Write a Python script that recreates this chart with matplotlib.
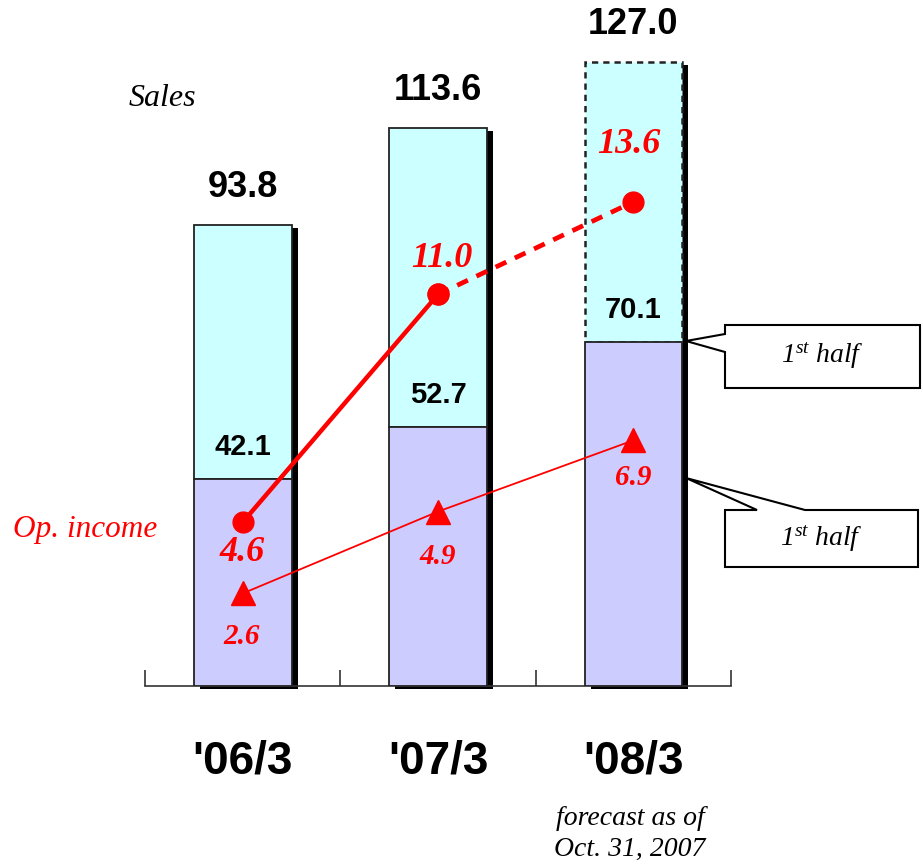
import numpy as np
import matplotlib
matplotlib.use("Agg")
import matplotlib.pyplot as plt
from matplotlib.patches import Polygon

# --- datos ---
years = ["'06/3", "'07/3", "'08/3"]
sales_full = [93.8, 113.6, 127.0]   # ventas año completo
sales_h1 = [42.1, 52.7, 70.1]       # ventas 1er semestre
op_full = [4.6, 11.0, 13.6]         # resultado operativo año
op_h1 = [2.6, 4.9, 6.9]             # resultado operativo 1er semestre

plt.rcParams['mathtext.fontset'] = 'custom'
plt.rcParams['mathtext.rm'] = 'Liberation Serif:italic'
plt.rcParams['mathtext.it'] = 'Liberation Serif:italic'

W, H = 923, 866
fig = plt.figure(figsize=(W / 100, H / 100), dpi=100)
ax = fig.add_axes([145 / W, (H - 686) / H, (731 - 145) / W, 686 / H])

x = np.arange(len(years))
bw = 0.5
ax.set_xlim(-0.5, 2.5)
ax.set_ylim(0, 139.6)

# sombra negra detrás de cada barra
ax.bar(x + 0.031, sales_full, bw, bottom=-0.6, color='black', zorder=1, clip_on=False)

upper = [f - h for f, h in zip(sales_full, sales_h1)]
ax.bar(x, sales_h1, bw, color='#CCCCFF', edgecolor='#222222', lw=1.3, zorder=3)
tops = ax.bar(x, upper, bw, bottom=sales_h1, color='#CCFFFF', edgecolor='#222222', lw=1.3, zorder=2)
tops[2].set_linestyle((0, (2.5, 2)))
tops[2].set_linewidth(1.8)

for i in x:
    ax.annotate(f"{sales_full[i]:.1f}", (i, sales_full[i]), xytext=(0, 27), textcoords='offset points',
                ha='center', va='center', fontsize=26, fontweight='bold', family='Liberation Sans')
    ax.annotate(f"{sales_h1[i]:.1f}", (i, sales_h1[i]), xytext=(0, 23), textcoords='offset points',
                ha='center', va='center', fontsize=21, fontweight='bold', family='Liberation Sans')
    ax.annotate(years[i], (i, 0), xytext=(0, -54), textcoords='offset points',
                ha='center', va='center', fontsize=33, fontweight='bold', family='Liberation Sans')

ax.set_xticks([-0.5, 0.5, 1.5, 2.5])
ax.tick_params(axis='x', direction='in', length=11.5, width=1.2, color='#333333', labelbottom=False)
ax.set_yticks([])
for s in ['top', 'left', 'right']:
    ax.spines[s].set_visible(False)
ax.spines['bottom'].set_color('#333333')
ax.spines['bottom'].set_linewidth(1.2)

# --- resultado operativo (eje secundario) ---
ax2 = ax.twinx()
ax2.set_ylim(0, 19.27)
ax2.set_yticks([])
for s in ax2.spines.values():
    s.set_visible(False)

ax2.plot(x[:2], op_full[:2], color='red', lw=3.2, marker='o', ms=15, zorder=4)
ax2.plot(x[1:], op_full[1:], color='red', lw=3.4, ls=(0, (2.5, 2)), marker='o', ms=15, zorder=4)
ax2.plot(x, op_h1, color='red', lw=1.3, marker='^', ms=17, zorder=4)

full_off = [(0, -22), (3, 26), (-3, 41)]
h1_off = [(-1, -31), (0, -32), (0, -27)]
for i in x:
    ax2.annotate(f"{op_full[i]:.1f}", (i, op_full[i]), xytext=full_off[i], textcoords='offset points',
                 ha='center', va='center', fontsize=26, fontweight='bold', style='italic',
                 color='red', family='Liberation Serif')
    ax2.annotate(f"{op_h1[i]:.1f}", (i, op_h1[i]), xytext=h1_off[i], textcoords='offset points',
                 ha='center', va='center', fontsize=21, fontweight='bold', style='italic',
                 color='red', family='Liberation Serif')

# --- textos y llamadas ---
fig.text(162 / W, 1 - 99 / H, "Sales", ha='center', va='center', fontsize=23,
         style='italic', family='Liberation Serif')
fig.text(85 / W, 1 - 529 / H, "Op. income", ha='center', va='center', fontsize=22.5,
         style='italic', family='Liberation Serif', color='red')
fig.text(630 / W, 1 - 834 / H, "forecast as of\nOct. 31, 2007", ha='center', va='center',
         fontsize=20, style='italic', family='Liberation Serif', linespacing=1.3)

ov = fig.add_axes([0, 0, 1, 1])
ov.set_xlim(0, W)
ov.set_ylim(H, 0)
ov.axis('off')
call1 = [(725, 325), (920, 325), (920, 388), (725, 388), (725, 352), (686, 341), (725, 334)]
call2 = [(725, 510), (757, 510), (686, 478), (805, 510), (918, 510), (918, 567), (725, 567)]
for poly in (call1, call2):
    ov.add_patch(Polygon(poly, closed=True, facecolor='white', edgecolor='black', lw=1.5))
ov.text(822, 356, r'$1^{st}\ half$', ha='center', va='center', fontsize=20)
ov.text(821, 539, r'$1^{st}\ half$', ha='center', va='center', fontsize=20)

fig.savefig("out.png", dpi=100)
